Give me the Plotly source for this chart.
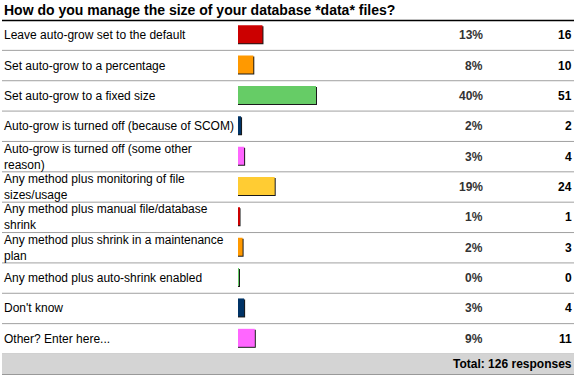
import plotly.graph_objects as go

title = "How do you manage the size of your database *data* files?"
labels = [
    "Leave auto-grow set to the default",
    "Set auto-grow to a percentage",
    "Set auto-grow to a fixed size",
    "Auto-grow is turned off (because of SCOM)",
    "Auto-grow is turned off (some other<br>reason)",
    "Any method plus monitoring of file<br>sizes/usage",
    "Any method plus manual file/database<br>shrink",
    "Any method plus shrink in a maintenance<br>plan",
    "Any method plus auto-shrink enabled",
    "Don't know",
    "Other? Enter here...",
]
percents = [13, 8, 40, 2, 3, 19, 1, 2, 0, 3, 9]
counts = [16, 10, 51, 2, 4, 24, 1, 3, 0, 4, 11]
total = 126
palette = ["#CC0000", "#FF9900", "#66CC66", "#003366", "#FF66FF", "#FFCC33"]

W, H = 576, 379
n = len(labels)
top_px, bot_px = 20, 354
row_px = (bot_px - top_px) / n
x0_px = 238
px_per_pct = 1.927
ax_len_px = 100 * px_per_pct

share = [c / total * 100 for c in counts]
pct_px = 1 / px_per_pct          # 1 px in x data units
unit_px = 1 / row_px             # 1 px in y data units
ys = list(range(n))
colors = [palette[i % len(palette)] for i in range(n)]

bar_len = [max(s, pct_px) for s in share]
shadow_len = [b + pct_px for b in bar_len]

fig = go.Figure()
fig.add_trace(go.Bar(
    x=shadow_len, y=ys, orientation="h",
    width=18 * unit_px, offset=-9 * unit_px,
    marker=dict(color="#1a1a1a", line=dict(width=0)),
    hoverinfo="skip", showlegend=False,
))
fig.add_trace(go.Bar(
    x=bar_len, y=ys, orientation="h",
    width=18 * unit_px, offset=-10 * unit_px,
    marker=dict(color=colors, line=dict(width=0)),
    hoverinfo="skip", showlegend=False,
))

font = "Liberation Sans, Arial, sans-serif"
ann = []
ann.append(dict(text="<b>" + title + "</b>", x=2 / W, y=1 - 10 / H, xref="paper", yref="paper",
                xanchor="left", yanchor="middle", showarrow=False,
                font=dict(family=font, size=14, color="#000")))
for i in range(n):
    ann.append(dict(text=labels[i], x=2 / W, y=i, xref="paper", yref="y",
                    xanchor="left", yanchor="middle", align="left", showarrow=False,
                    font=dict(family=font, size=12, color="#000")))
    ann.append(dict(text="<b>%d%%</b>" % percents[i], x=485 / W, y=i, xref="paper", yref="y",
                    xanchor="right", yanchor="middle", showarrow=False,
                    font=dict(family=font, size=12, color="#333")))
    ann.append(dict(text="<b>%d</b>" % counts[i], x=574 / W, y=i, xref="paper", yref="y",
                    xanchor="right", yanchor="middle", showarrow=False,
                    font=dict(family=font, size=12, color="#000")))
ann.append(dict(text="<b>Total: %d responses</b>" % total, x=574 / W, y=1 - 364 / H,
                xref="paper", yref="paper", xanchor="right", yanchor="middle", showarrow=False,
                font=dict(family=font, size=12, color="#000")))

shapes = []
shapes.append(dict(type="rect", xref="paper", yref="paper", x0=2 / W, x1=574 / W,
                   y0=1 - 374 / H, y1=1 - 354 / H, fillcolor="#D4D4D4",
                   line=dict(width=0), layer="below"))
shapes.append(dict(type="line", xref="paper", yref="paper", x0=2 / W, x1=574 / W,
                   y0=1 - 374.5 / H, y1=1 - 374.5 / H, line=dict(color="#999", width=1)))
for k in range(1, n + 1):
    shapes.append(dict(type="line", xref="paper", yref="y", x0=2 / W, x1=574 / W,
                       y0=k - 0.5, y1=k - 0.5, line=dict(color="#A0A0A0", width=1)))
shapes.append(dict(type="line", xref="paper", yref="paper", x0=2 / W, x1=574 / W,
                   y0=1 - 20.5 / H, y1=1 - 20.5 / H, line=dict(color="#000", width=1.5)))

fig.update_layout(
    width=W, height=H,
    margin=dict(l=0, r=0, t=0, b=0),
    paper_bgcolor="white", plot_bgcolor="white",
    barmode="overlay",
    xaxis=dict(range=[0, 100], domain=[x0_px / W, (x0_px + ax_len_px) / W],
               showgrid=False, zeroline=False, showticklabels=False, fixedrange=True),
    yaxis=dict(range=[n - 0.5, -0.5], domain=[1 - bot_px / H, 1 - top_px / H],
               showgrid=False, zeroline=False, showticklabels=False, fixedrange=True),
    annotations=ann, shapes=shapes,
    hovermode=False,
)
fig.write_html("out.html", config={"displayModeBar": False},
               post_script="document.body.style.margin='0';document.body.style.overflow='hidden';")
